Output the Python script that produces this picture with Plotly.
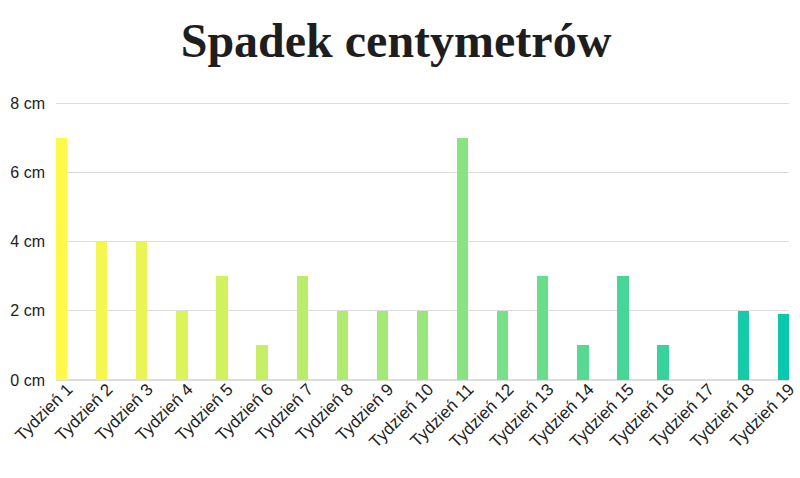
import plotly.graph_objects as go

categories = [f"Tydzień {i}" for i in range(1, 20)]
values = [7, 4, 4, 2, 3, 1, 3, 2, 2, 2, 7, 2, 3, 1, 3, 1, 0, 2, 1.9]
y_ticks = [0, 2, 4, 6, 8]
y_tick_labels = [f"{v} cm" for v in y_ticks]

def hex_to_rgb(h):
    h = h.lstrip("#")
    return [int(h[i:i+2], 16) for i in (0, 2, 4)]

stops = [hex_to_rgb("#FFF94A"), hex_to_rgb("#98E77A"), hex_to_rgb("#08C8AE")]
n = len(categories)
colors = []
for i in range(n):
    t = i / (n - 1)
    if t <= 0.5:
        a, b, f = stops[0], stops[1], t / 0.5
    else:
        a, b, f = stops[1], stops[2], (t - 0.5) / 0.5
    c = [round(a[k] + (b[k] - a[k]) * f) for k in range(3)]
    colors.append(f"rgb({c[0]},{c[1]},{c[2]})")

xs = list(range(n))
fig = go.Figure(go.Bar(x=xs, y=values, marker=dict(color=colors, line=dict(width=0)), width=0.28))

ytop = 8.06
fig.update_layout(
    width=800, height=478,
    paper_bgcolor="white", plot_bgcolor="white",
    margin=dict(l=56, r=11, t=101, b=98, autoexpand=False),
    title=dict(text="Spadek centymetrów", x=0.495, xanchor="center", y=0.915, yanchor="middle",
               font=dict(family="Liberation Serif", size=48, color="#1e1e1e", weight="bold")),
    showlegend=False,
    bargap=0,
    xaxis=dict(
        range=[-0.14, n - 1 + 0.14], tickmode="array", tickvals=xs, ticktext=categories,
        tickangle=-45, ticklabelstandoff=-5, ticklabelshift=6,
        tickfont=dict(family="Liberation Sans", size=17, color="#222"),
        showgrid=False, zeroline=False, showline=False, ticks="", automargin=False,
    ),
    yaxis=dict(
        range=[0, ytop], tickmode="array", tickvals=y_ticks, ticktext=y_tick_labels,
        tickfont=dict(family="Liberation Sans", size=16, color="#222"),
        gridcolor="#dddddd", gridwidth=1, zeroline=True, zerolinecolor="#dddddd",
        showline=False, ticks="", ticklabelstandoff=10, automargin=False,
    ),
)
fig.write_html("out.html")
